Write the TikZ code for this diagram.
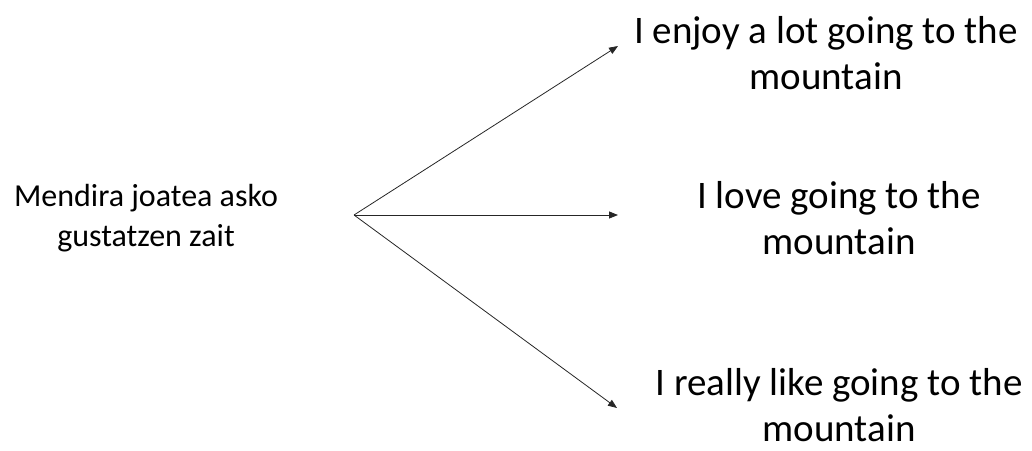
\documentclass[tikz,border=0pt]{standalone}
\usepackage{fontspec}
\setmainfont{Carlito}
\usetikzlibrary{arrows.meta}
\begin{document}
\begin{tikzpicture}[x=1pt,y=-1pt,
  src/.style={align=center,font=\fontsize{32}{40}\selectfont,inner sep=0pt},
  tgt/.style={align=center,font=\fontsize{39}{46}\selectfont,inner sep=0pt},
  conn/.style={draw=black!85,line width=0.8pt,-{Triangle[length=9pt,width=7pt]}}]
\useasboundingbox (0,0) rectangle (1032,450);
\node[src] (s) at (146,218) {Mendira joatea asko\\gustatzen zait};
\node[tgt] (t1) at (826,53) {I enjoy a lot going to the\\mountain};
\node[tgt] (t2) at (839,218) {I love going to the\\mountain};
\node[tgt] (t3) at (839,405) {I really like going to the\\mountain};
\coordinate (o) at (354,215);
\coordinate (e1) at (618,46);
\coordinate (e2) at (618,215);
\coordinate (e3) at (617,408);
\draw[conn] (o) -- (e1);
\draw[conn] (o) -- (e2);
\draw[conn] (o) -- (e3);
\end{tikzpicture}
\end{document}
